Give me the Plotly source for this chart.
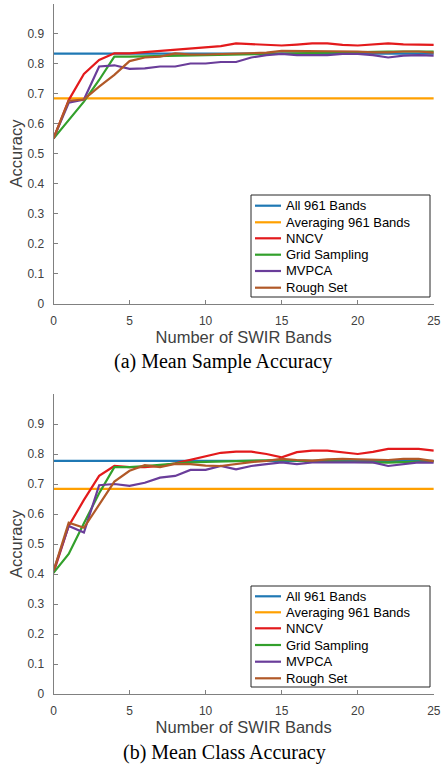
import plotly.graph_objects as go

bands = list(range(0, 26))

# (a) Mean Sample Accuracy
a_all = 0.833
a_avg = 0.684
a_nncv = [0.55, 0.678, 0.765, 0.812, 0.834, 0.834, 0.838, 0.842, 0.845, 0.850, 0.854, 0.858, 0.867,
          0.865, 0.862, 0.860, 0.863, 0.867, 0.867, 0.862, 0.860, 0.863, 0.867, 0.864, 0.862, 0.862]
a_grid = [0.55, 0.612, 0.673, 0.745, 0.823, 0.823, 0.824, 0.825, 0.826, 0.828, 0.830, 0.831, 0.832,
          0.833, 0.834, 0.835, 0.836, 0.837, 0.838, 0.838, 0.839, 0.839, 0.840, 0.840, 0.840, 0.840]
a_mvpca = [0.55, 0.669, 0.680, 0.790, 0.794, 0.782, 0.784, 0.790, 0.790, 0.800, 0.800, 0.805, 0.805,
           0.820, 0.828, 0.832, 0.828, 0.828, 0.828, 0.832, 0.832, 0.828, 0.820, 0.826, 0.828, 0.826]
a_rough = [0.55, 0.676, 0.680, 0.723, 0.762, 0.808, 0.820, 0.823, 0.834, 0.830, 0.830, 0.832, 0.834,
           0.834, 0.836, 0.842, 0.842, 0.840, 0.842, 0.840, 0.840, 0.837, 0.837, 0.840, 0.840, 0.836]

# (b) Mean Class Accuracy
b_all = 0.777
b_avg = 0.684
b_nncv = [0.404, 0.560, 0.647, 0.727, 0.760, 0.756, 0.756, 0.760, 0.769, 0.780, 0.793, 0.804, 0.808,
          0.808, 0.800, 0.789, 0.806, 0.811, 0.811, 0.806, 0.800, 0.807, 0.817, 0.817, 0.817, 0.811]
b_grid = [0.404, 0.467, 0.569, 0.669, 0.756, 0.756, 0.760, 0.764, 0.769, 0.772, 0.774, 0.775, 0.776,
          0.777, 0.778, 0.780, 0.778, 0.777, 0.776, 0.775, 0.774, 0.773, 0.771, 0.773, 0.775, 0.776]
b_mvpca = [0.410, 0.560, 0.538, 0.696, 0.700, 0.694, 0.704, 0.721, 0.727, 0.747, 0.747, 0.760, 0.749,
           0.760, 0.766, 0.772, 0.766, 0.772, 0.772, 0.772, 0.772, 0.772, 0.760, 0.767, 0.772, 0.771]
b_rough = [0.410, 0.571, 0.554, 0.630, 0.708, 0.744, 0.763, 0.756, 0.767, 0.766, 0.761, 0.760, 0.767,
           0.773, 0.777, 0.784, 0.780, 0.778, 0.782, 0.784, 0.782, 0.780, 0.780, 0.784, 0.784, 0.776]

names = ["All 961 Bands", "Averaging 961 Bands", "NNCV", "Grid Sampling", "MVPCA", "Rough Set"]
colors = ["#1F78B4", "#FFA000", "#E31A1C", "#33A02C", "#6A3D9A", "#B15928"]

x_ticks = [0, 5, 10, 15, 20, 25]
y_ticks = [0, 0.1, 0.2, 0.3, 0.4, 0.5, 0.6, 0.7, 0.8, 0.9]
y_labels = ["0", "0.1", "0.2", "0.3", "0.4", "0.5", "0.6", "0.7", "0.8", "0.9"]

W, H = 441, 766
fig = go.Figure()

panels = [
    ("x", "y", [[a_all] * len(bands), [a_avg] * len(bands), a_nncv, a_grid, a_mvpca, a_rough]),
    ("x2", "y2", [[b_all] * len(bands), [b_avg] * len(bands), b_nncv, b_grid, b_mvpca, b_rough]),
]
for xa, ya, series in panels:
    for name, col, vals in zip(names, colors, series):
        fig.add_trace(go.Scatter(x=bands, y=vals, mode="lines", name=name,
                                 line=dict(color=col, width=2.2), showlegend=False,
                                 xaxis=xa, yaxis=ya, cliponaxis=False))

xdom = [53.5 / W, 433.8 / W]
ydom_a = [1 - 303.5 / H, 1 - 3.5 / H]
ydom_b = [1 - 694 / H, 1 - 394 / H]

tickfont = dict(family="Liberation Sans, Arial, sans-serif", size=12, color="#404040")
titlefont = dict(family="Liberation Sans, Arial, sans-serif", size=16.5, color="#404040")

def xaxis(dom, anchor):
    return dict(domain=dom, anchor=anchor, range=[0, 25], tickvals=x_ticks, automargin=False,
                showgrid=False, zeroline=False, showline=True, linecolor="#808080", linewidth=1,
                ticks="inside", ticklen=4, tickcolor="#808080", tickfont=tickfont,
                ticklabelstandoff=6, ticklabeloverflow="allow",
                title=dict(text="Number of SWIR Bands", font=titlefont, standoff=4))

def yaxis(dom, anchor):
    return dict(domain=dom, anchor=anchor, range=[0, 1], tickvals=y_ticks, ticktext=y_labels,
                automargin=False,
                showgrid=False, zeroline=False, showline=True, linecolor="#808080", linewidth=1,
                ticks="inside", ticklen=4, tickcolor="#808080", tickfont=tickfont,
                ticklabelstandoff=6, ticklabeloverflow="allow",
                title=dict(text="Accuracy", font=titlefont, standoff=0))

# legend boxes (drawn as shapes + text so that the compact row spacing matches)
legfont = dict(family="Liberation Sans, Arial, sans-serif", size=13, color="#000000")
legend_boxes = [(195, 297, [205.7, 222.3, 238.3, 254.7, 271.0, 287.7]),
                (586, 687, [596.3, 612.3, 628.3, 645.0, 661.7, 678.3])]
shapes, annotations = [], []
for top, bot, rows in legend_boxes:
    shapes.append(dict(type="rect", xref="paper", yref="paper", x0=251 / W, x1=430 / W,
                       y0=1 - bot / H, y1=1 - top / H, fillcolor="white",
                       line=dict(color="#262626", width=1), layer="above"))
    for name, col, ry in zip(names, colors, rows):
        shapes.append(dict(type="line", xref="paper", yref="paper", x0=255 / W, x1=281 / W,
                           y0=1 - ry / H, y1=1 - ry / H, line=dict(color=col, width=2.2), layer="above"))
        annotations.append(dict(text=name, x=284 / W, y=1 - ry / H, xref="paper", yref="paper",
                                xanchor="left", yanchor="middle", showarrow=False, font=legfont))

capfont = dict(family="Liberation Serif, Times New Roman, serif", size=20, color="#000000")
annotations += [
    dict(text="(a) Mean Sample Accuracy", x=222.5 / W, y=1 - 361.7 / H, xref="paper", yref="paper",
         xanchor="center", yanchor="middle", showarrow=False, font=capfont),
    dict(text="(b) Mean Class Accuracy", x=224 / W, y=1 - 752.7 / H, xref="paper", yref="paper",
         xanchor="center", yanchor="middle", showarrow=False, font=capfont),
]

fig.update_layout(
    width=W, height=H,
    margin=dict(l=0, r=0, t=0, b=0, autoexpand=False),
    paper_bgcolor="white", plot_bgcolor="white",
    xaxis=xaxis(xdom, "y"), yaxis=yaxis(ydom_a, "x"),
    xaxis2=xaxis(xdom, "y2"), yaxis2=yaxis(ydom_b, "x2"),
    shapes=shapes, annotations=annotations,
)

fig.write_html("out.html", config={"displayModeBar": False},
               post_script="document.body.style.margin='0';document.body.style.overflow='hidden';")
